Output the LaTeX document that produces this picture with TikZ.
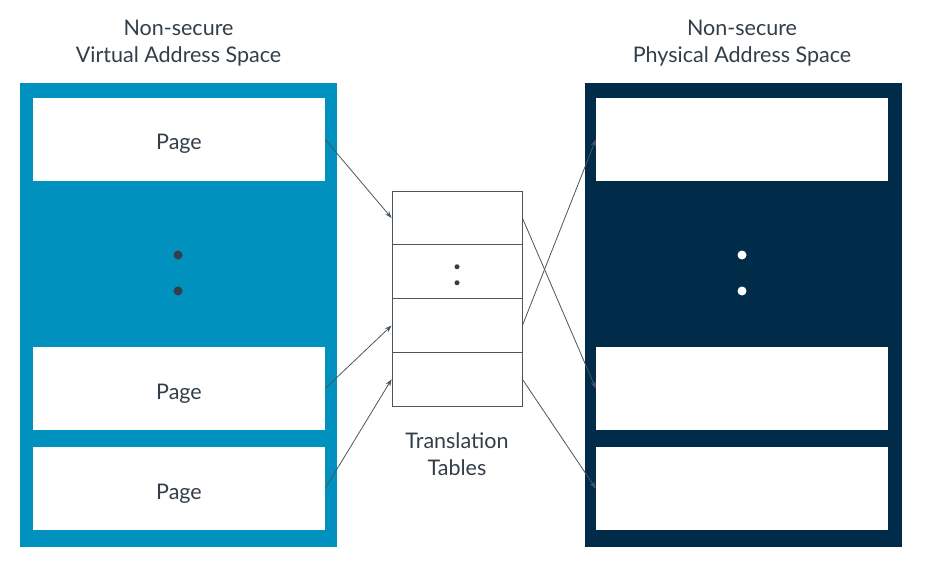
\documentclass[tikz,border=0pt]{standalone}
\usepackage{fontspec}
\setmainfont{Lato}
\usetikzlibrary{arrows.meta}
\usetikzlibrary{positioning,calc}
\definecolor{vablue}{HTML}{0091BF}
\definecolor{padark}{HTML}{002B49}
\definecolor{inkgray}{HTML}{333E48}
\definecolor{linegray}{HTML}{4A5560}

\begin{document}
\begin{tikzpicture}[x=1pt,y=-1pt,
         every node/.style = {font=\fontsize{21.5}{27}\selectfont,text=inkgray},
         space/.style = {minimum width=317pt,minimum height=464pt,inner sep=0pt},
         page/.style = {fill=white,minimum width=292pt,minimum height=83pt,inner sep=0pt,
            text height=21pt,text depth=0pt},
         ttrow/.style = {draw=linegray,line width=0.8pt,fill=white,
            minimum width=130pt,minimum height=53.75pt,inner sep=0pt},
         dot/.style = {circle,inner sep=0pt,minimum size=#1},
         map/.style = {draw=linegray,line width=0.8pt,-{Stealth[length=7pt,width=5pt]}}
]
   \useasboundingbox (0,0) rectangle (927,567);

   % virtual address space
   \node[space,fill=vablue] (vas) at (178.5,315) {};
   \node[align=center] (vtitle) at (178.5,43) {Non-secure\\Virtual Address Space};
   \node[page] (vp1) at (179,139.5) {Page};
   \node[page] (vp2) at (179,388.5) {Page};
   \node[page] (vp3) at (179,488.5) {Page};
   \node[dot=9pt,fill=inkgray] (vd1) at (178,255) {};
   \node[dot=9pt,fill=inkgray] (vd2) at (178,291) {};

   % physical address space
   \node[space,fill=padark] (pas) at (743,315) {};
   \node[align=center] (ptitle) at (742,43) {Non-secure\\Physical Address Space};
   \node[page] (pp1) at (742,139.5) {};
   \node[page] (pp2) at (742,388.5) {};
   \node[page] (pp3) at (742,488.5) {};
   \node[dot=9pt,fill=white] (pd1) at (742,255) {};
   \node[dot=9pt,fill=white] (pd2) at (742,291) {};

   % translation tables
   \node[ttrow] (tt1) at (457,218) {};
   \node[ttrow,below=-0.8pt of tt1] (tt2) {};
   \node[ttrow,below=-0.8pt of tt2] (tt3) {};
   \node[ttrow,below=-0.8pt of tt3] (tt4) {};
   \node[dot=5pt,fill=inkgray] (td1) at ($(tt2.center)+(0,-5)$) {};
   \node[dot=5pt,fill=inkgray] (td2) at ($(tt2.center)+(0,11)$) {};
   \node[align=center,below=23pt of tt4] (ttlabel) {Translation\\Tables};

   % mappings
   \draw[map] (vp1.east) -- (tt1.west);
   \draw[map] (vp2.east) -- (tt3.west);
   \draw[map] (vp3.east) -- (tt4.west);
   \draw[map] (tt1.east) -- (pp2.west);
   \draw[map] (tt3.east) -- (pp1.west);
   \draw[map] (tt4.east) -- (pp3.west);
\end{tikzpicture}
\end{document}
